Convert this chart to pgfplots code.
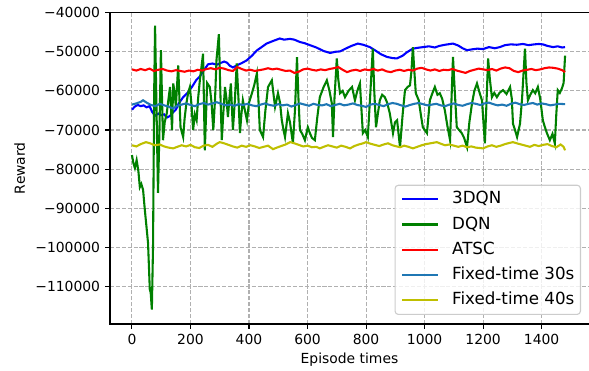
\documentclass[border=0pt]{standalone}
\usepackage{pgfplots}
\pgfplotsset{compat=1.18}
\usepackage{fontspec}
\setmainfont{DejaVu Sans}
\definecolor{mplblue}{HTML}{1F77B4}
\definecolor{mplyellow}{rgb}{0.75,0.75,0}
\definecolor{mplgreen}{rgb}{0,0.5,0}
\definecolor{gridgray}{HTML}{B0B0B0}
\definecolor{legframe}{HTML}{CCCCCC}
\begin{document}
\fontsize{13.9pt}{16pt}\selectfont
\begin{tikzpicture}
\begin{axis}[
  at={(0,0)}, anchor=south west,
  scale only axis, width=481pt, height=311.7pt,
  xmin=-75, xmax=1568.6, ymin=-119600, ymax=-39900,
  xtick={0,200,400,600,800,1000,1200,1400},
  xticklabels={0,200,400,600,800,1000,1200,1400},
  ytick={-110000,-100000,-90000,-80000,-70000,-60000,-50000,-40000},
  yticklabels={−110000,−100000,−90000,−80000,−70000,−60000,−50000,−40000},
  scaled ticks=false,
  tick pos=left, tick align=outside, major tick length=4.86pt,
  every tick/.style={black, line width=1.1pt},
  xticklabel style={inner sep=0pt, text height=10.1pt, text depth=0pt, anchor=north, yshift=-4.86pt},
  yticklabel style={inner sep=0pt, text height=10.1pt, text depth=0pt, anchor=east, xshift=-4.86pt},
  grid=major,
  grid style={gridgray, line width=1.1pt, dash pattern=on 4.1pt off 1.8pt},
  axis line style={black, line width=1.1pt},
  xlabel={Episode times},
  ylabel={Reward},
  xlabel style={at={(axis description cs:0.4979,0)}, anchor=north, inner sep=0pt, text height=10.1pt, text depth=2.9pt, yshift=-29pt},
  ylabel style={at={(axis description cs:0,0.5)}, anchor=south, inner sep=0pt, text height=10.1pt, text depth=0pt, yshift=85pt},
  legend cell align=left,
  legend image code/.code={\draw[#1] (0pt,0pt) -- (36pt,0pt);},
  legend style={at={(axis description cs:0.9792,0.0289)}, anchor=south east,
    font=\fontsize{16.7pt}{19pt}\selectfont,
    draw=legframe, line width=1.1pt, fill=white, fill opacity=0.8, text opacity=1,
    rounded corners=3.3pt, inner xsep=6pt, inner ysep=6pt,
    nodes={inner sep=0pt, text height=12.5pt, text depth=3.5pt},
    column sep=13pt, row sep=9.3pt},
]
\addplot[blue, line width=2.08pt] coordinates {
(0,-64800) (10,-64000) (20,-63600) (30,-63900) (40,-63700) (50,-64200) (60,-63900) (70,-65500) (80,-66300) (90,-65800) (100,-66200) (110,-66000) (120,-66800) (130,-66400) (140,-65500) (150,-64800) (160,-63200) (175,-61600) (190,-60500) (205,-59000) (220,-57200) (232,-56300) (245,-54800) (260,-53200) (275,-53000) (290,-53300) (305,-52800) (315,-52500) (325,-52800) (335,-53600) (345,-54000) (360,-53400) (375,-52900) (392,-52200) (410,-51000) (426,-49700) (445,-48700) (460,-47900) (480,-47300) (505,-46600) (520,-46900) (540,-46700) (555,-46900) (574,-47500) (590,-47800) (608,-48300) (630,-48900) (655,-49800) (677,-50300) (695,-50000) (711,-49900) (730,-49200) (750,-48500) (772,-47900) (790,-48200) (813,-48800) (830,-49600) (850,-50600) (871,-51300) (890,-51600) (905,-51700) (925,-51000) (940,-50100) (960,-49200) (975,-49000) (995,-48800) (1015,-48600) (1035,-48900) (1050,-48500) (1070,-48200) (1097,-47900) (1115,-48400) (1130,-49100) (1145,-49600) (1160,-49400) (1180,-49200) (1200,-49300) (1220,-48800) (1240,-49100) (1257,-48800) (1275,-48300) (1295,-48100) (1315,-48200) (1336,-48000) (1355,-48300) (1375,-48100) (1390,-48000) (1404,-48100) (1420,-48500) (1439,-48800) (1455,-48600) (1470,-48900) (1480,-48800)
};
\addlegendentry{3DQN}
\addplot[mplgreen, line width=2.08pt] coordinates {
(0,-76400) (5,-78500) (10,-79700) (16,-77700) (22,-80500) (27,-84600) (32,-83800) (38,-85300) (44,-90400) (50,-95000) (55,-98900) (61,-110800) (64,-111500) (68,-115900) (72,-100000) (76,-60000) (79,-43300) (84,-65000) (89,-86100) (94,-70000) (99,-49600) (106,-72600) (112,-68000) (119,-65700) (125,-62000) (130,-59000) (137,-70000) (141,-58100) (146,-60500) (150,-64100) (158,-53500) (166,-69300) (175,-71800) (180,-67000) (186,-63200) (192,-60500) (198,-59000) (204,-64000) (209,-70000) (215,-66000) (221,-67500) (226,-62000) (232,-57300) (243,-50500) (249,-75200) (257,-58000) (266,-59000) (272,-63000) (278,-70000) (284,-62000) (289,-52000) (297,-45500) (302,-60000) (307,-72600) (312,-66000) (318,-59000) (323,-62000) (328,-66700) (333,-62000) (338,-58100) (345,-70000) (352,-62000) (358,-53000) (364,-62000) (369,-70800) (374,-66000) (379,-62400) (386,-65000) (393,-67500) (400,-63000) (410,-60600) (418,-58500) (427,-55500) (432,-62000) (437,-70000) (448,-71800) (456,-65000) (465,-59000) (478,-57300) (489,-64100) (499,-60600) (506,-63000) (512,-67500) (518,-70000) (523,-71800) (533,-65700) (540,-68000) (550,-73400) (557,-65000) (564,-51400) (569,-62000) (574,-70000) (582,-71000) (591,-72600) (601,-69300) (608,-70800) (615,-72000) (625,-72600) (633,-67000) (642,-61600) (655,-59000) (666,-57300) (675,-60000) (683,-63200) (687,-71800) (692,-62000) (700,-51700) (705,-57000) (711,-60600) (720,-60000) (728,-61600) (740,-60000) (752,-59000) (762,-62400) (770,-60000) (779,-58100) (789,-70800) (797,-70000) (806,-71800) (815,-60000) (823,-49200) (828,-60000) (834,-69300) (840,-66000) (847,-62400) (855,-61000) (864,-61600) (872,-63000) (881,-65700) (892,-70800) (899,-68000) (906,-67500) (916,-74400) (925,-66000) (933,-59800) (942,-59000) (950,-58600) (955,-55000) (960,-48800) (965,-55000) (970,-60600) (980,-62400) (987,-66000) (994,-69300) (1008,-70800) (1018,-62400) (1027,-60500) (1035,-59000) (1044,-61000) (1052,-60600) (1060,-62000) (1069,-64900) (1078,-69000) (1087,-72600) (1092,-62000) (1097,-51300) (1103,-60000) (1110,-69300) (1118,-70000) (1127,-70800) (1135,-72000) (1145,-74400) (1153,-68000) (1162,-63200) (1170,-60000) (1179,-58100) (1188,-60500) (1196,-62400) (1206,-73400) (1212,-62000) (1217,-51700) (1223,-57000) (1230,-61600) (1238,-60500) (1247,-61600) (1256,-60500) (1268,-59800) (1280,-60800) (1292,-59000) (1298,-62000) (1302,-68400) (1309,-70000) (1316,-71800) (1326,-68400) (1333,-62000) (1343,-49200) (1348,-58000) (1353,-62400) (1361,-61000) (1370,-59800) (1378,-60600) (1387,-59000) (1395,-62000) (1404,-67500) (1410,-69000) (1418,-70800) (1428,-72600) (1437,-71000) (1445,-73400) (1450,-66000) (1455,-59800) (1462,-60500) (1469,-59400) (1475,-58000) (1480,-51000)
};
\addlegendentry{DQN}
\addplot[red, line width=2.08pt] coordinates {
(0,-54500) (15,-54800) (30,-54400) (45,-54700) (60,-54300) (75,-54900) (90,-54600) (105,-54400) (120,-54800) (135,-55000) (150,-54700) (165,-54900) (180,-55100) (195,-54800) (210,-55000) (225,-54600) (240,-54800) (255,-54400) (270,-54200) (285,-54500) (300,-54100) (315,-54300) (330,-54700) (345,-54900) (360,-53900) (375,-54400) (390,-54800) (405,-54600) (420,-54900) (435,-54700) (450,-54500) (465,-54200) (480,-54500) (495,-54300) (510,-54600) (525,-54900) (540,-54800) (555,-55400) (570,-55100) (585,-54500) (600,-54300) (615,-54600) (630,-54800) (645,-54500) (660,-54700) (675,-54400) (690,-54200) (705,-53900) (720,-54600) (735,-55200) (750,-54800) (765,-54600) (780,-54900) (795,-54500) (810,-54700) (825,-54400) (840,-54800) (855,-54500) (870,-55000) (885,-55200) (900,-54800) (915,-54600) (930,-54900) (945,-54600) (960,-54800) (975,-54300) (990,-54100) (1005,-54500) (1020,-54800) (1035,-54500) (1050,-54900) (1065,-54600) (1080,-54700) (1095,-54400) (1110,-54800) (1125,-55100) (1140,-55400) (1155,-54900) (1170,-54600) (1185,-54300) (1200,-54500) (1215,-54700) (1230,-54400) (1245,-54800) (1260,-54300) (1275,-54000) (1290,-54200) (1305,-54900) (1320,-55200) (1335,-54800) (1350,-54600) (1365,-54400) (1380,-54700) (1395,-54500) (1410,-54200) (1425,-54000) (1440,-54100) (1455,-54300) (1470,-54700) (1480,-55200)
};
\addlegendentry{ATSC}
\addplot[mplblue, line width=2.08pt] coordinates {
(0,-63500) (15,-63200) (30,-62800) (38,-62400) (50,-63000) (65,-63600) (80,-63900) (95,-63300) (110,-63700) (125,-64000) (140,-64500) (155,-63800) (170,-63500) (185,-63200) (200,-63600) (215,-63900) (230,-63400) (245,-63100) (260,-63500) (275,-63200) (290,-62900) (305,-63300) (320,-63700) (335,-63500) (350,-63800) (365,-63400) (380,-63600) (395,-63300) (410,-63700) (425,-63900) (440,-63500) (455,-63200) (470,-63600) (485,-63800) (500,-63400) (515,-63700) (530,-63500) (545,-64000) (560,-63600) (575,-63200) (590,-63500) (605,-63800) (620,-63300) (635,-63600) (650,-63700) (665,-63400) (680,-63900) (695,-63600) (710,-63300) (725,-63700) (740,-63500) (755,-63200) (770,-63600) (785,-63800) (800,-64100) (815,-63500) (830,-63300) (845,-63600) (860,-63900) (875,-63400) (890,-63100) (905,-63300) (920,-63700) (935,-64000) (950,-63600) (965,-63300) (980,-63100) (995,-63400) (1010,-63700) (1025,-63500) (1040,-63300) (1055,-63700) (1070,-63900) (1085,-63500) (1100,-63200) (1115,-63600) (1130,-63800) (1145,-63400) (1160,-63100) (1175,-63300) (1190,-63600) (1205,-63200) (1220,-63000) (1235,-63400) (1250,-63700) (1265,-63500) (1280,-63800) (1295,-63300) (1310,-63000) (1325,-63400) (1340,-63600) (1355,-63300) (1370,-63100) (1385,-63500) (1400,-63200) (1415,-63400) (1430,-63700) (1445,-63500) (1460,-63300) (1480,-63400)
};
\addlegendentry{Fixed-time 30s}
\addplot[mplyellow, line width=2.08pt] coordinates {
(0,-73900) (15,-74200) (30,-73600) (48,-73100) (62,-73400) (78,-73900) (95,-73700) (110,-74200) (125,-74500) (141,-74700) (155,-74300) (170,-73900) (185,-74200) (200,-73800) (215,-74400) (230,-74600) (245,-74000) (260,-73800) (275,-74300) (290,-73500) (300,-73100) (315,-73400) (330,-73800) (345,-74200) (360,-74500) (375,-74000) (390,-74300) (405,-73900) (420,-74200) (435,-74600) (450,-74300) (465,-74000) (482,-74900) (495,-74500) (510,-74100) (525,-73700) (541,-73100) (555,-73400) (570,-73800) (585,-74200) (600,-74000) (615,-74400) (630,-74300) (642,-74700) (655,-74300) (670,-73900) (685,-74200) (700,-74500) (715,-74000) (730,-74300) (745,-74700) (760,-74100) (775,-73700) (790,-73400) (800,-73100) (815,-73500) (830,-73800) (845,-74100) (860,-73700) (875,-73400) (890,-73900) (905,-74200) (916,-74400) (930,-74000) (945,-74300) (960,-74700) (975,-74300) (990,-73900) (1005,-73600) (1020,-73400) (1042,-73100) (1055,-73500) (1070,-73900) (1085,-73700) (1100,-74000) (1115,-74300) (1130,-74000) (1145,-74400) (1160,-74200) (1175,-74500) (1200,-74700) (1215,-74200) (1230,-73900) (1245,-74300) (1260,-74000) (1275,-73600) (1290,-73300) (1302,-73100) (1315,-73400) (1330,-73700) (1345,-74000) (1360,-74300) (1375,-73800) (1390,-74100) (1405,-73800) (1420,-73600) (1435,-74100) (1450,-74400) (1465,-73700) (1475,-74300) (1480,-75200)
};
\addlegendentry{Fixed-time 40s}
\end{axis}
\pgfresetboundingbox
\useasboundingbox (-110pt,-47pt) rectangle (479pt,324pt);
\end{tikzpicture}
\end{document}
